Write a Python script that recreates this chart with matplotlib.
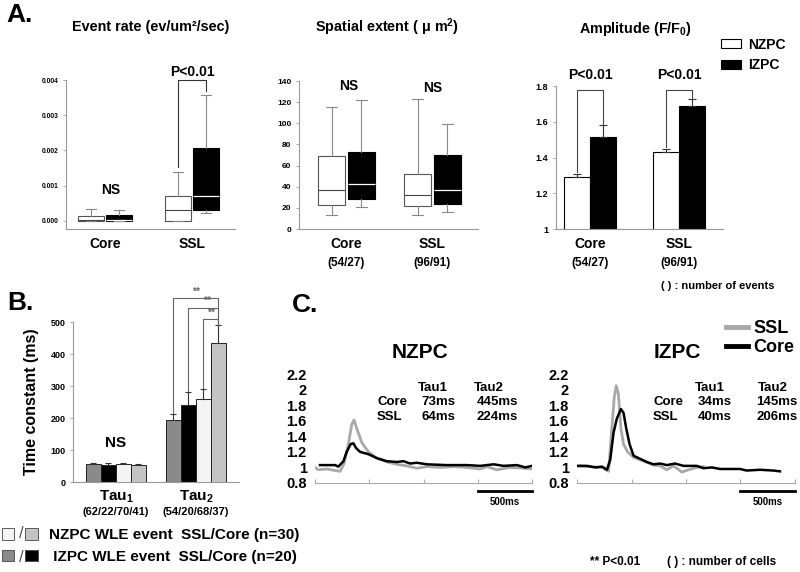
import matplotlib.pyplot as plt
from matplotlib.transforms import blended_transform_factory
from matplotlib.patches import Patch
from matplotlib.legend_handler import HandlerTuple

plt.rcParams['font.family'] = ['Liberation Sans', 'DejaVu Sans']
plt.rcParams['font.weight'] = 'bold'
plt.rcParams['axes.labelweight'] = 'bold'
plt.rcParams['mathtext.fontset'] = 'custom'
plt.rcParams['mathtext.rm'] = 'Liberation Sans:bold'
plt.rcParams['mathtext.it'] = 'Liberation Sans:bold'
plt.rcParams['mathtext.bf'] = 'Liberation Sans:bold'

# ---- data ----
groups = ['Core', 'SSL']
event_counts = ['(54/27)', '(96/91)']

# box stats: whisker low, q1, median, q3, whisker high
rate_nzpc = [(0.0, 0.0, 0.00004, 0.00015, 0.00033), (0.0, 0.0, 0.0003, 0.0007, 0.0014)]
rate_izpc = [(0.0, 0.0, 0.00002, 0.00017, 0.00031), (0.00023, 0.0003, 0.0007, 0.00207, 0.00358)]
extent_nzpc = [(13, 23, 37, 69, 115), (13, 22, 32, 52, 123)]
extent_izpc = [(21, 28, 43, 73, 122), (16, 24, 37, 70, 99)]

amp_nzpc = [1.29, 1.43]
amp_nzpc_err = [0.02, 0.02]
amp_izpc = [1.515, 1.69]
amp_izpc_err = [0.065, 0.04]

tau_labels = ['Tau$_1$', 'Tau$_2$']
tau_counts = ['(62/22/70/41)', '(54/20/68/37)']
tau_izpc_ssl = [55, 194]
tau_izpc_ssl_err = [5, 18]
tau_izpc_core = [52, 241]
tau_izpc_core_err = [7, 40]
tau_nzpc_ssl = [55, 259]
tau_nzpc_ssl_err = [4, 32]
tau_nzpc_core = [53, 434]
tau_nzpc_core_err = [2, 57]

# traces (time in ms, F/F0)
nz_core_t = [46, 185, 215, 262, 292, 329, 354, 378, 415, 492, 569, 662, 754, 815, 877, 938,
             1031, 1215, 1400, 1523, 1646, 1738, 1862, 1938, 2000]
nz_core_y = [1.03, 1.03, 1.01, 1.08, 1.2, 1.3, 1.31, 1.25, 1.2, 1.17, 1.12, 1.08, 1.07, 1.08,
             1.05, 1.06, 1.04, 1.03, 1.03, 1.02, 1.04, 1.02, 1.03, 1.0, 1.02]
nz_ssl_t = [0, 31, 108, 185, 231, 268, 308, 338, 360, 385, 431, 492, 569, 662, 754, 846, 938,
            1031, 1154, 1277, 1400, 1523, 1585, 1677, 1800, 1923, 2000]
nz_ssl_y = [1.0, 0.97, 0.98, 0.96, 0.95, 1.05, 1.3, 1.55, 1.61, 1.5, 1.32, 1.2, 1.12, 1.07,
            1.04, 1.02, 0.99, 1.01, 1.0, 1.01, 1.0, 0.98, 1.01, 0.97, 1.0, 0.99, 0.98]
iz_core_t = [9, 92, 168, 229, 275, 305, 336, 366, 403, 427, 452, 482, 519, 580, 641, 702, 763,
             824, 901, 977, 1099, 1160, 1237, 1313, 1496, 1557, 1679, 1801, 1862]
iz_core_y = [1.02, 1.02, 1.0, 1.01, 0.97, 1.1, 1.45, 1.63, 1.75, 1.7, 1.5, 1.3, 1.15, 1.11,
             1.07, 1.04, 1.05, 1.03, 1.05, 1.02, 1.02, 0.99, 1.0, 0.98, 0.98, 0.96, 0.97, 0.96, 0.95]
iz_ssl_t = [9, 229, 290, 314, 342, 360, 379, 403, 427, 464, 519, 611, 702, 763, 824, 885, 962,
            1023, 1099, 1160]
iz_ssl_y = [1.02, 1.0, 0.95, 1.4, 1.9, 2.05, 1.95, 1.5, 1.3, 1.2, 1.13, 1.08, 1.03, 1.02, 0.97,
            1.02, 0.94, 0.97, 1.0, 1.01]

nz_tau = [('Core', '73ms', '445ms'), ('SSL', '64ms', '224ms')]
iz_tau = [('Core', '34ms', '145ms'), ('SSL', '40ms', '206ms')]

# ---- layout helpers ----
W, H = 800, 572
fig = plt.figure(figsize=(8, 5.72), dpi=100)


def rect(x0, y0, x1, y1):
    return [x0 / W, 1 - y1 / H, (x1 - x0) / W, (y1 - y0) / H]


def ftext(x, y, s, **kw):
    kw.setdefault('ha', 'center')
    kw.setdefault('va', 'center')
    fig.text(x / W, 1 - y / H, s, **kw)


def xlabel_text(ax, x, y, s, size):
    tr = blended_transform_factory(ax.transData, fig.transFigure)
    ax.text(x, 1 - y / H, s, transform=tr, ha='center', va='center', fontsize=size)


def style_axes(ax, lsize):
    for s in ['top', 'right']:
        ax.spines[s].set_visible(False)
    ax.spines['left'].set_color('#999999')
    ax.spines['bottom'].set_color('#999999')
    ax.tick_params(axis='y', colors='#999999', labelcolor='black', labelsize=lsize,
                   length=2, width=0.6)
    ax.tick_params(axis='x', length=0, labelbottom=False)


def box_stats(vals):
    return [dict(whislo=v[0], q1=v[1], med=v[2], q3=v[3], whishi=v[4]) for v in vals]


def draw_boxes(ax, nz, iz, off, w):
    pos = [1, 2]
    common = dict(widths=w, patch_artist=True, showfliers=False, capwidths=w * 0.4,
                  whiskerprops=dict(color='#888888', lw=0.8),
                  capprops=dict(color='#888888', lw=0.8))
    ax.bxp(box_stats(nz), positions=[p - off for p in pos],
           boxprops=dict(facecolor='white', edgecolor='#555555', lw=0.8),
           medianprops=dict(color='#444444', lw=0.8), **common)
    ax.bxp(box_stats(iz), positions=[p + off for p in pos],
           boxprops=dict(facecolor='black', edgecolor='black', lw=0.8),
           medianprops=dict(color='white', lw=0.9), **common)


# ---- Panel A1: event rate ----
ax1 = fig.add_axes(rect(66, 80, 235, 229))
draw_boxes(ax1, rate_nzpc, rate_izpc, 0.16, 0.3)
ax1.set_xlim(0.552, 2.494)
ax1.set_ylim(-0.000227, 0.004)
ax1.set_yticks([0, 0.001, 0.002, 0.003, 0.004])
ax1.set_yticklabels(['0.000', '0.001', '0.002', '0.003', '0.004'])
style_axes(ax1, 4.8)
for i, g in enumerate(groups):
    xlabel_text(ax1, i + 1, 244, g, 10)
ax1.plot([1.84, 1.84, 2.16, 2.16], [0.00152, 0.004, 0.004, 0.0037], color='#333333',
         lw=0.8, clip_on=False)
ax1.text(2.0, 0.00423, 'P<0.01', ha='center', va='center', fontsize=10)
ax1.text(1.06, 0.00088, 'NS', ha='center', va='center', fontsize=10)
ftext(151, 27, 'Event rate (ev/um²/sec)', fontsize=10.4)

# ---- Panel A2: spatial extent ----
ax2 = fig.add_axes(rect(299, 81, 478, 229))
draw_boxes(ax2, extent_nzpc, extent_izpc, 0.174, 0.31)
ax2.set_xlim(0.448, 2.529)
ax2.set_ylim(0, 140)
ax2.set_yticks(range(0, 141, 20))
style_axes(ax2, 6)
for i, g in enumerate(groups):
    xlabel_text(ax2, i + 1, 244, g, 10)
    xlabel_text(ax2, i + 1, 263, event_counts[i], 8.5)
ax2.text(1.03, 135, 'NS', ha='center', va='center', fontsize=10)
ax2.text(2.0, 133, 'NS', ha='center', va='center', fontsize=10)
ftext(387, 27, 'Spatial extent ( $\\mu$ m$^2$)', fontsize=10.4)

# ---- Panel A3: amplitude ----
ax3 = fig.add_axes(rect(556, 86, 723, 229))
bw = 0.29
x = [1, 2]
b_nz = ax3.bar([p - bw / 2 for p in x], amp_nzpc, bw, color='white', edgecolor='black',
               lw=0.8, yerr=[[0, 0], amp_nzpc_err], capsize=3,
               error_kw=dict(lw=0.8, capthick=0.8, ecolor='#333333'), label='NZPC')
b_iz = ax3.bar([p + bw / 2 for p in x], amp_izpc, bw, color='black', edgecolor='black',
               lw=0.8, yerr=[[0, 0], amp_izpc_err], capsize=3,
               error_kw=dict(lw=0.8, capthick=0.8, ecolor='#333333'), label='IZPC')
ax3.set_xlim(0.618, 2.494)
ax3.set_ylim(1, 1.8)
ax3.set_yticks([1, 1.2, 1.4, 1.6, 1.8])
ax3.set_yticklabels(['1', '1.2', '1.4', '1.6', '1.8'])
style_axes(ax3, 6.5)
for i, g in enumerate(groups):
    xlabel_text(ax3, i + 1, 244, g, 10)
    xlabel_text(ax3, i + 1, 263, event_counts[i], 8.5)
for i in range(2):
    left = amp_nzpc[i] + amp_nzpc_err[i] + 0.01
    right = amp_izpc[i] + amp_izpc_err[i] + 0.005
    ax3.plot([x[i] - bw / 2, x[i] - bw / 2, x[i] + bw / 2, x[i] + bw / 2],
             [left, 1.78, 1.78, right], color='#444444', lw=0.8, clip_on=False)
    ax3.text(x[i], 1.86, 'P<0.01', ha='center', va='center', fontsize=10)
ftext(635, 29, 'Amplitude (F/F$_0$)', fontsize=10.4)
ax3.legend(handles=[b_nz, b_iz], loc='center left', bbox_to_anchor=(721 / W, 1 - 55 / H),
           bbox_transform=fig.transFigure, frameon=False, fontsize=10, handlelength=1.44,
           handleheight=0.65, handletextpad=0.5, labelspacing=0.5, borderpad=0,
           borderaxespad=0)
ftext(718, 286, '( ) : number of events', fontsize=8)

# ---- Panel B: time constants ----
axb = fig.add_axes(rect(73, 322, 239, 482))
tw = 0.1875
series = [(tau_izpc_ssl, tau_izpc_ssl_err, '#8a8a8a'),
          (tau_izpc_core, tau_izpc_core_err, 'black'),
          (tau_nzpc_ssl, tau_nzpc_ssl_err, '#f4f4f4'),
          (tau_nzpc_core, tau_nzpc_core_err, '#c4c4c4')]
offsets = [-1.5 * tw, -0.5 * tw, 0.5 * tw, 1.5 * tw]
for (vals, errs, col), off in zip(series, offsets):
    axb.bar([p + off for p in x], vals, tw, color=col, edgecolor='#222222', lw=0.7,
            yerr=[[0, 0], errs], capsize=2.5,
            error_kw=dict(lw=0.8, capthick=0.8, ecolor='#333333'))
axb.set_xlim(0.4625, 2.5375)
axb.set_ylim(0, 500)
axb.set_yticks(range(0, 501, 100))
style_axes(axb, 6.5)
axb.set_ylabel('Time constant (ms)', fontsize=11.5, fontweight='bold', labelpad=8)
for i in range(2):
    xlabel_text(axb, i + 1, 497, tau_labels[i], 11)
    xlabel_text(axb, i + 1, 512, tau_counts[i], 8)
axb.text(1, 122, 'NS', ha='center', va='center', fontsize=11)
right_top = tau_nzpc_core[1] + tau_nzpc_core_err[1]
right_x = 2 + offsets[3]
for k, level in enumerate([575, 544, 509]):
    vals, errs, _ = series[k]
    lx = 2 + offsets[k]
    axb.plot([lx, lx, right_x, right_x], [vals[1] + errs[1] + 3, level, level, right_top],
             color='#666666', lw=0.8, clip_on=False)
    axb.text((lx + right_x) / 2 + (0.04 if k == 1 else 0), level + 5, '**', ha='center',
             va='bottom', fontsize=7.5, color='#666666')

sq = dict(edgecolor='#444444', lw=0.6)
h_nz = (Patch(facecolor='#f4f4f4', **sq), Patch(facecolor='#c4c4c4', **sq))
h_iz = (Patch(facecolor='#8a8a8a', **sq), Patch(facecolor='black', **sq))
fig.legend(handles=[h_nz, h_iz],
           labels=['NZPC WLE event  SSL/Core (n=30)', ' IZPC WLE event  SSL/Core (n=20)'],
           handler_map={tuple: HandlerTuple(ndivide=None, pad=0.72)},
           loc='upper left', bbox_to_anchor=(2 / W, 1 - 528 / H), frameon=False,
           fontsize=11, handlelength=2.35, handleheight=0.8, handletextpad=0.72,
           labelspacing=0.5, borderpad=0, borderaxespad=0)
for yy in (534, 558):
    ftext(21, yy, '/', fontsize=12, fontweight='normal', color='#555555')

# ---- Panel C: traces ----
def trace_axes(r):
    ax = fig.add_axes(r)
    for s in ['top', 'right', 'left']:
        ax.spines[s].set_visible(False)
    ax.spines['bottom'].set_color('#aaaaaa')
    ax.set_xlim(0, 2000)
    ax.set_ylim(0.8, 2.2)
    ax.set_xticks(range(0, 2001, 500))
    ax.set_yticks([0.8, 1, 1.2, 1.4, 1.6, 1.8, 2, 2.2])
    ax.set_yticklabels(['0.8', '1', '1.2', '1.4', '1.6', '1.8', '2', '2.2'])
    ax.tick_params(axis='x', direction='in', length=3, colors='#aaaaaa', labelbottom=False)
    ax.tick_params(axis='y', length=0, labelsize=10.5, pad=6)
    tr = blended_transform_factory(ax.transData, fig.transFigure)
    ax.plot([1500, 2000], [1 - 491 / H] * 2, color='black', lw=2, transform=tr,
            clip_on=False)
    ax.text(1750, 1 - 502 / H, '500ms', transform=tr, ha='center', va='center', fontsize=7)
    return ax


axn = trace_axes(rect(315, 374, 532, 483))
axn.plot(nz_ssl_t, nz_ssl_y, color='#a8a8a8', lw=2)
axn.plot(nz_core_t, nz_core_y, color='black', lw=1.8)
ftext(420, 353, 'NZPC', fontsize=15)

axi = trace_axes(rect(577, 374, 795, 483))
l_ssl, = axi.plot(iz_ssl_t, iz_ssl_y, color='#a8a8a8', lw=2, label='SSL')
l_core, = axi.plot(iz_core_t, iz_core_y, color='black', lw=1.8, label='Core')
ftext(677, 353, 'IZPC', fontsize=15)
leg = axi.legend(handles=[l_ssl, l_core], loc='center left',
                 bbox_to_anchor=(726 / W, 1 - 338 / H), bbox_transform=fig.transFigure,
                 frameon=False, fontsize=13, handlelength=1.2, handletextpad=0.3,
                 labelspacing=0.1, borderpad=0, borderaxespad=0)
for ln in leg.get_lines():
    ln.set_linewidth(3.5)

for (tx_tau1, tx_tau2, tx_lab, tx_v1, tx_v2), rows in [((433, 489, 377, 438, 497), nz_tau),
                                                        ((710, 773, 653, 715, 777), iz_tau)]:
    ftext(tx_tau1, 388, 'Tau1', fontsize=9.5)
    ftext(tx_tau2, 388, 'Tau2', fontsize=9.5)
    for j, (lab, v1, v2) in enumerate(rows):
        yy = 402 + 15 * j
        ftext(tx_lab, yy, lab, fontsize=9.5, ha='left')
        ftext(tx_v1, yy, v1, fontsize=9.5)
        ftext(tx_v2, yy, v2, fontsize=9.5)

# ---- panel letters and footnotes ----
ftext(20, 15, 'A.', fontsize=19)
ftext(20, 303, 'B.', fontsize=19)
ftext(305, 305, 'C.', fontsize=19)
ftext(615, 562, '** P<0.01', fontsize=8.5)
ftext(722, 562, '( ) : number of cells', fontsize=8.5)

fig.savefig('out.png', dpi=100)
